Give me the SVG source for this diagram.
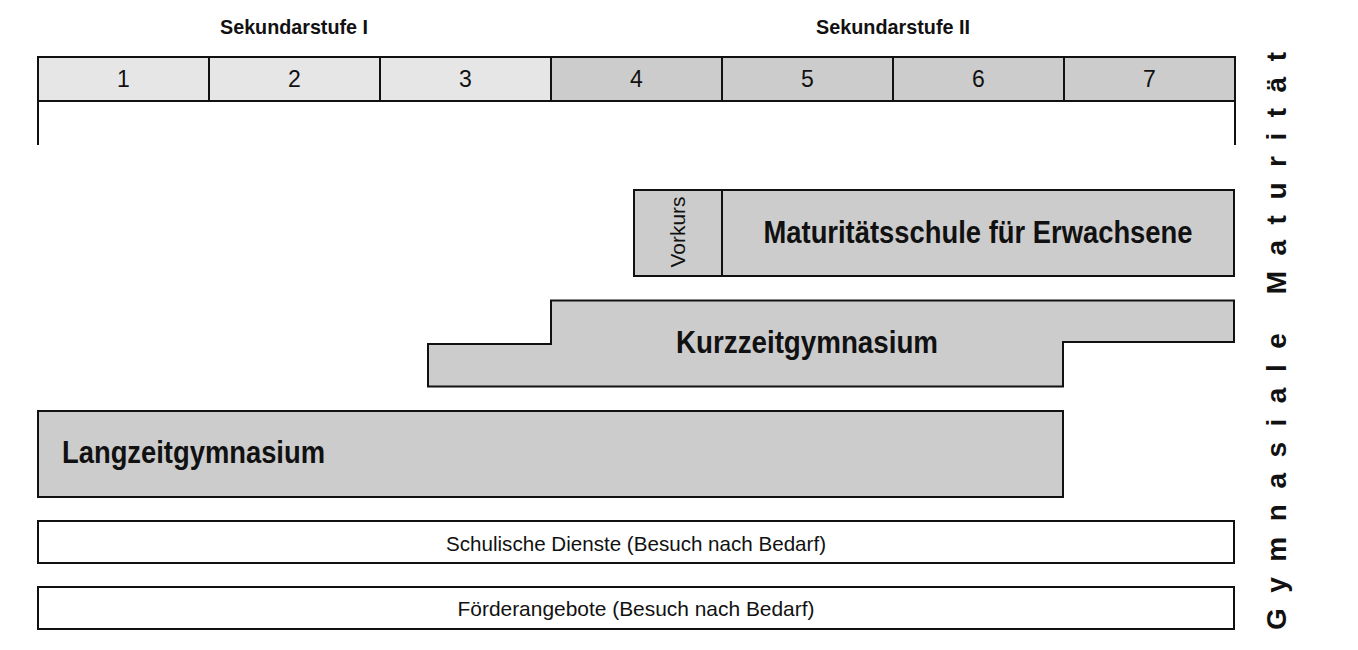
<svg xmlns="http://www.w3.org/2000/svg" width="1358" height="650" viewBox="0 0 1358 650">
<style>
.box{stroke:#111;stroke-width:2;}
.g{fill:#cccccc;}
.l{fill:#e6e6e6;}
.w{fill:#ffffff;}
.t{font-family:"Liberation Sans","Noto Sans",sans-serif;fill:#111;}
.b{font-weight:bold;}
.num{font-size:23px;text-anchor:middle;}
.hd{font-size:21px;text-anchor:middle;font-weight:bold;}
.big{font-size:32px;font-weight:bold;}
.sm{font-size:21px;text-anchor:middle;}
</style>
<rect width="1358" height="650" fill="#ffffff"/>
<g id="headers">
<text class="t hd" x="294" y="34" textLength="148" lengthAdjust="spacingAndGlyphs">Sekundarstufe I</text>
<text class="t hd" x="893" y="34" textLength="154" lengthAdjust="spacingAndGlyphs">Sekundarstufe II</text>
</g>
<g id="years">
<rect class="box l" x="38" y="57" width="171" height="44"/>
<rect class="box l" x="209" y="57" width="171" height="44"/>
<rect class="box l" x="380" y="57" width="171" height="44"/>
<rect class="box g" x="551" y="57" width="171" height="44"/>
<rect class="box g" x="722" y="57" width="171" height="44"/>
<rect class="box g" x="893" y="57" width="171" height="44"/>
<rect class="box g" x="1064" y="57" width="171" height="44"/>
<text class="t num" x="123.5" y="87">1</text>
<text class="t num" x="294.5" y="87">2</text>
<text class="t num" x="465.5" y="87">3</text>
<text class="t num" x="636.5" y="87">4</text>
<text class="t num" x="807.5" y="87">5</text>
<text class="t num" x="978.5" y="87">6</text>
<text class="t num" x="1149.5" y="87">7</text>
</g>
<g id="connectors" stroke="#111" stroke-width="2" fill="none">
<line x1="38" y1="101" x2="38" y2="145"/>
<line x1="1235" y1="101" x2="1235" y2="145"/>
</g>
<g id="vorkurs">
<rect class="box g" x="634" y="190" width="88" height="86"/>
<text class="t" font-size="20" text-anchor="middle" transform="translate(685,232) rotate(-90)" textLength="71" lengthAdjust="spacingAndGlyphs">Vorkurs</text>
</g>
<g id="maturitaetsschule">
<rect class="box g" x="722" y="190" width="512" height="86"/>
<text class="t big" x="978" y="243" text-anchor="middle" textLength="429" lengthAdjust="spacingAndGlyphs">Maturitätsschule für Erwachsene</text>
</g>
<g id="kurzzeitgymnasium">
<path class="box g" d="M551,300.5 H1234 V342 H1063 V386.5 H428 V344 H551 Z"/>
<text class="t big" x="807" y="353" text-anchor="middle" textLength="262" lengthAdjust="spacingAndGlyphs">Kurzzeitgymnasium</text>
</g>
<g id="langzeitgymnasium">
<rect class="box g" x="38" y="411" width="1025" height="86"/>
<text class="t big" x="62" y="463" textLength="263" lengthAdjust="spacingAndGlyphs">Langzeitgymnasium</text>
</g>
<g id="schulische-dienste">
<rect class="box w" x="38" y="521" width="1196" height="42"/>
<text class="t sm" x="636" y="551" textLength="380" lengthAdjust="spacingAndGlyphs">Schulische Dienste (Besuch nach Bedarf)</text>
</g>
<g id="foerderangebote">
<rect class="box w" x="38" y="587" width="1196" height="42"/>
<text class="t sm" x="636" y="616" textLength="357" lengthAdjust="spacingAndGlyphs">Förderangebote (Besuch nach Bedarf)</text>
</g>
<g id="side-label">
<text class="t b" font-size="28" transform="translate(1286,630) rotate(-90)" textLength="578" lengthAdjust="spacing">Gymnasiale Maturität</text>
</g>
</svg>
